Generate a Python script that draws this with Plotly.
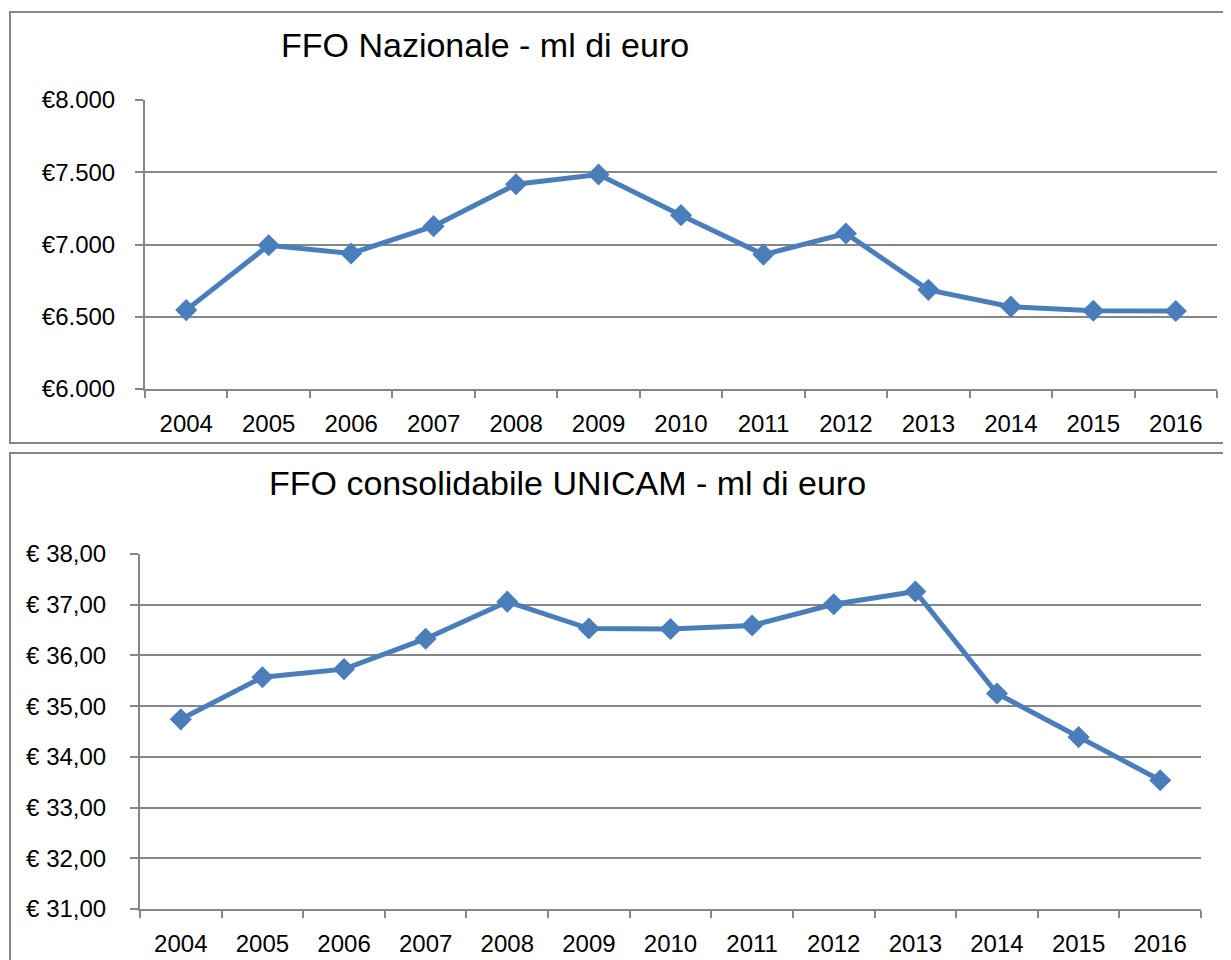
import plotly.graph_objects as go

years = ["2004", "2005", "2006", "2007", "2008", "2009", "2010",
         "2011", "2012", "2013", "2014", "2015", "2016"]
ffo_nazionale = [6546, 6995, 6938, 7127, 7417, 7484, 7203,
                 6930, 7076, 6686, 6570, 6542, 6540]
ffo_unicam = [34.74, 35.57, 35.73, 36.33, 37.06, 36.53, 36.52,
              36.59, 37.01, 37.26, 35.25, 34.39, 33.54]

top_title = "FFO Nazionale - ml di euro"
bottom_title = "FFO consolidabile UNICAM - ml di euro"
top_tickvals = [6000, 6500, 7000, 7500, 8000]
top_ticktext = ["€6.000", "€6.500", "€7.000", "€7.500", "€8.000"]
bot_tickvals = [31, 32, 33, 34, 35, 36, 37, 38]
bot_ticktext = ["€ 31,00", "€ 32,00", "€ 33,00", "€ 34,00",
                "€ 35,00", "€ 36,00", "€ 37,00", "€ 38,00"]

# page body has an 8px margin; size the figure so it fits the window
OFF = 8
W, H = 1231 - OFF, 960 - OFF
FONT = "Liberation Sans, Arial, sans-serif"
BLUE = "#4A7EBB"
GRAY = "#868686"

fig = go.Figure()
fig.add_trace(go.Scatter(x=years, y=ffo_nazionale, mode="lines+markers",
                         line=dict(color=BLUE, width=5),
                         marker=dict(symbol="diamond", size=17, color=BLUE),
                         xaxis="x", yaxis="y", showlegend=False))
fig.add_trace(go.Scatter(x=years, y=ffo_unicam, mode="lines+markers",
                         line=dict(color=BLUE, width=5),
                         marker=dict(symbol="diamond", size=17, color=BLUE),
                         xaxis="x2", yaxis="y2", showlegend=False))

def px_x(v):
    return (v - OFF) / W

def px_y(v):
    return 1 - (v - OFF) / H

xcommon = dict(type="category", range=[-0.5, 12.5], showgrid=False,
               showline=True, linecolor=GRAY, linewidth=2,
               ticks="outside", tickson="boundaries", ticklen=7,
               tickcolor=GRAY, tickwidth=1.5, ticklabelstandoff=12,
               tickfont=dict(family=FONT, size=24, color="black"),
               automargin=False, fixedrange=True)
ycommon = dict(showgrid=True, gridcolor=GRAY, gridwidth=1.5,
               showline=True, linecolor=GRAY, linewidth=2,
               ticks="outside", ticklen=8, tickcolor=GRAY, tickwidth=1.5,
               zeroline=False, tickmode="array",
               tickfont=dict(family=FONT, size=24, color="black"),
               automargin=False, fixedrange=True)

fig.update_layout(
    width=W, height=H,
    margin=dict(l=0, r=0, t=0, b=0, pad=0),
    paper_bgcolor="white", plot_bgcolor="white",
    xaxis=dict(domain=[px_x(145), px_x(1217)], anchor="y", **xcommon),
    yaxis=dict(domain=[px_y(389), px_y(100)], anchor="x", range=[6000, 8000],
               tickvals=top_tickvals, ticktext=top_ticktext,
               ticklabelstandoff=15, **ycommon),
    xaxis2=dict(domain=[px_x(140), px_x(1201)], anchor="y2", **xcommon),
    yaxis2=dict(domain=[px_y(909), px_y(554)], anchor="x2", range=[31, 38],
                tickvals=bot_tickvals, ticktext=bot_ticktext,
                ticklabelstandoff=19, **ycommon),
    shapes=[
        dict(type="rect", xref="paper", yref="paper",
             x0=px_x(10), x1=px_x(1245), y0=px_y(443), y1=px_y(12),
             line=dict(color=GRAY, width=2), layer="below"),
        dict(type="rect", xref="paper", yref="paper",
             x0=px_x(10), x1=px_x(1245), y0=px_y(980), y1=px_y(453),
             line=dict(color=GRAY, width=2), layer="below"),
    ],
    annotations=[
        dict(text=top_title, xref="paper", yref="paper",
             x=px_x(485), y=px_y(45), xanchor="center", yanchor="middle",
             showarrow=False, font=dict(family=FONT, size=34, color="black")),
        dict(text=bottom_title, xref="paper", yref="paper",
             x=px_x(567), y=px_y(483), xanchor="center", yanchor="middle",
             showarrow=False, font=dict(family=FONT, size=34, color="black")),
    ],
)

fig.write_html("out.html", config={"displayModeBar": False})
